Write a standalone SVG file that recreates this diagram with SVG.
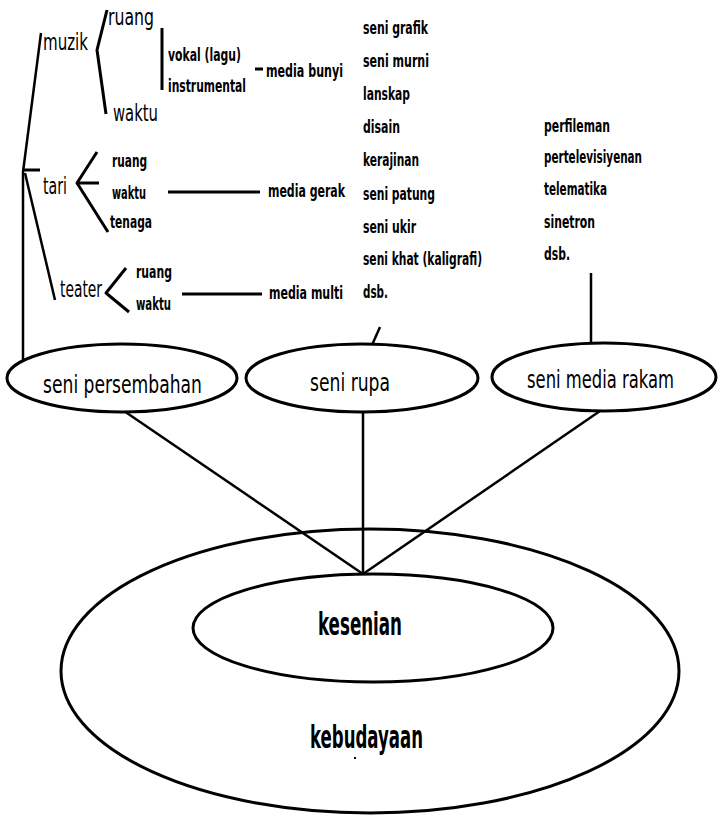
<svg xmlns="http://www.w3.org/2000/svg" width="720" height="817" viewBox="0 0 720 817">
<style>
text{font-family:"Liberation Sans Narrow","Arial Narrow","DejaVu Sans Condensed","Liberation Sans",sans-serif;fill:#000}
.l{font-size:23px}
.m{font-size:25px}
.b{font-size:32px;font-weight:bold}
.s{font-size:17px;font-weight:bold}
.e{fill:#fff;stroke:#000;stroke-width:3}
.c{stroke:#000;stroke-width:3;fill:none;stroke-linecap:butt;stroke-linejoin:round}
.t{stroke-width:2.5}
</style>
<rect width="720" height="817" fill="#fff"/>
<g id="node-kebudayaan">
<ellipse cx="370" cy="671" rx="309" ry="142" fill="none" stroke="#000" stroke-width="3"/>
<text class="b" transform="translate(310 748) scale(0.75 1)" textLength="150.7" lengthAdjust="spacingAndGlyphs">kebudayaan</text>
<rect x="354" y="757" width="2" height="2" fill="#000"/>
</g>
<g id="connectors">
<polyline class="c t" points="41,33 23,172 23,361"/>
<line class="c" x1="23" y1="170" x2="40" y2="170"/>
<line class="c t" x1="25" y1="173" x2="55" y2="300"/>
<polyline class="c" points="107,10 97,50 106,114"/>
<line class="c" x1="162" y1="28" x2="162" y2="90" stroke-width="3.5"/>
<line class="c" x1="255" y1="69" x2="263" y2="69" stroke-width="3.5"/>
<polyline class="c" points="97,152 77,183 108,232"/>
<line class="c" x1="77" y1="183" x2="99" y2="183"/>
<line class="c" x1="168" y1="192" x2="260" y2="192" stroke-width="3.5"/>
<polyline class="c" points="126,268 106,293 129,312"/>
<line class="c" x1="182" y1="294" x2="262" y2="294" stroke-width="3.5"/>
<line class="c t" x1="380" y1="327" x2="372" y2="345"/>
<line class="c t" x1="591" y1="273" x2="591" y2="342"/>
<line class="c t" x1="124" y1="411" x2="363" y2="574"/>
<line class="c t" x1="363" y1="412" x2="363" y2="574"/>
<line class="c t" x1="600" y1="411" x2="363" y2="574"/>
</g>
<g id="node-muzik"><text class="l" transform="translate(43 50) scale(0.8 1)" textLength="56.25" lengthAdjust="spacingAndGlyphs">muzik</text></g>
<g id="node-muzik-ruang"><text class="l" transform="translate(108 25) scale(0.8 1)" textLength="57.5" lengthAdjust="spacingAndGlyphs">ruang</text></g>
<g id="node-muzik-waktu"><text class="l" transform="translate(113 121) scale(0.8 1)" textLength="56.25" lengthAdjust="spacingAndGlyphs">waktu</text></g>
<g id="node-vokal"><text class="s" transform="translate(168 61) scale(0.75 1)" textLength="97.3" lengthAdjust="spacingAndGlyphs">vokal (lagu)</text></g>
<g id="node-instrumental"><text class="s" transform="translate(168 92) scale(0.75 1)" textLength="104" lengthAdjust="spacingAndGlyphs">instrumental</text></g>
<g id="node-media-bunyi"><text class="s" transform="translate(266 77) scale(0.75 1)" textLength="102.7" lengthAdjust="spacingAndGlyphs">media bunyi</text></g>
<g id="node-tari"><text class="l" transform="translate(43 194) scale(0.8 1)" textLength="30" lengthAdjust="spacingAndGlyphs">tari</text></g>
<g id="node-tari-ruang"><text class="s" transform="translate(112 167) scale(0.75 1)" textLength="46.7" lengthAdjust="spacingAndGlyphs">ruang</text></g>
<g id="node-tari-waktu"><text class="s" transform="translate(112 199) scale(0.75 1)" textLength="45.3" lengthAdjust="spacingAndGlyphs">waktu</text></g>
<g id="node-tari-tenaga"><text class="s" transform="translate(110 228) scale(0.75 1)" textLength="56" lengthAdjust="spacingAndGlyphs">tenaga</text></g>
<g id="node-media-gerak"><text class="s" transform="translate(268 197) scale(0.75 1)" textLength="102.7" lengthAdjust="spacingAndGlyphs">media gerak</text></g>
<g id="node-teater"><text class="l" transform="translate(60 297) scale(0.8 1)" textLength="52.5" lengthAdjust="spacingAndGlyphs">teater</text></g>
<g id="node-teater-ruang"><text class="s" transform="translate(136 278) scale(0.75 1)" textLength="48" lengthAdjust="spacingAndGlyphs">ruang</text></g>
<g id="node-teater-waktu"><text class="s" transform="translate(136 310) scale(0.75 1)" textLength="46.7" lengthAdjust="spacingAndGlyphs">waktu</text></g>
<g id="node-media-multi"><text class="s" transform="translate(269 299) scale(0.75 1)" textLength="98.7" lengthAdjust="spacingAndGlyphs">media multi</text></g>
<g id="node-rupa-list">
<text class="s" transform="translate(363 34) scale(0.75 1)" textLength="86.7" lengthAdjust="spacingAndGlyphs">seni grafik</text>
<text class="s" transform="translate(363 67) scale(0.75 1)" textLength="88" lengthAdjust="spacingAndGlyphs">seni murni</text>
<text class="s" transform="translate(363 100) scale(0.75 1)" textLength="62.7" lengthAdjust="spacingAndGlyphs">lanskap</text>
<text class="s" transform="translate(363 133) scale(0.75 1)" textLength="49.3" lengthAdjust="spacingAndGlyphs">disain</text>
<text class="s" transform="translate(363 166) scale(0.75 1)" textLength="74.7" lengthAdjust="spacingAndGlyphs">kerajinan</text>
<text class="s" transform="translate(363 200) scale(0.75 1)" textLength="96" lengthAdjust="spacingAndGlyphs">seni patung</text>
<text class="s" transform="translate(363 233) scale(0.75 1)" textLength="70.7" lengthAdjust="spacingAndGlyphs">seni ukir</text>
<text class="s" transform="translate(363 265) scale(0.75 1)" textLength="158.7" lengthAdjust="spacingAndGlyphs">seni khat (kaligrafi)</text>
<text class="s" transform="translate(363 298) scale(0.75 1)" textLength="33.3" lengthAdjust="spacingAndGlyphs">dsb.</text>
</g>
<g id="node-rakam-list">
<text class="s" transform="translate(544 132) scale(0.75 1)" textLength="88" lengthAdjust="spacingAndGlyphs">perfileman</text>
<text class="s" transform="translate(544 163) scale(0.75 1)" textLength="130.7" lengthAdjust="spacingAndGlyphs">pertelevisiyenan</text>
<text class="s" transform="translate(544 195) scale(0.75 1)" textLength="84" lengthAdjust="spacingAndGlyphs">telematika</text>
<text class="s" transform="translate(544 228) scale(0.75 1)" textLength="68" lengthAdjust="spacingAndGlyphs">sinetron</text>
<text class="s" transform="translate(544 260) scale(0.75 1)" textLength="34.7" lengthAdjust="spacingAndGlyphs">dsb.</text>
</g>
<g id="node-seni-persembahan">
<ellipse class="e" cx="122" cy="378" rx="115" ry="34"/>
<text class="m" transform="translate(43 393) scale(0.8 1)" textLength="198.75" lengthAdjust="spacingAndGlyphs">seni persembahan</text>
</g>
<g id="node-seni-rupa">
<ellipse class="e" cx="362" cy="378" rx="116" ry="34"/>
<text class="m" transform="translate(310 391) scale(0.8 1)" textLength="100" lengthAdjust="spacingAndGlyphs">seni rupa</text>
</g>
<g id="node-seni-media-rakam">
<ellipse class="e" cx="604" cy="377" rx="112" ry="34"/>
<text class="m" transform="translate(527 388) scale(0.8 1)" textLength="183.75" lengthAdjust="spacingAndGlyphs">seni media rakam</text>
</g>
<g id="node-kesenian">
<ellipse class="e" cx="373" cy="628" rx="180" ry="54"/>
<text class="b" transform="translate(318 635) scale(0.75 1)" textLength="112" lengthAdjust="spacingAndGlyphs">kesenian</text>
</g>
</svg>
